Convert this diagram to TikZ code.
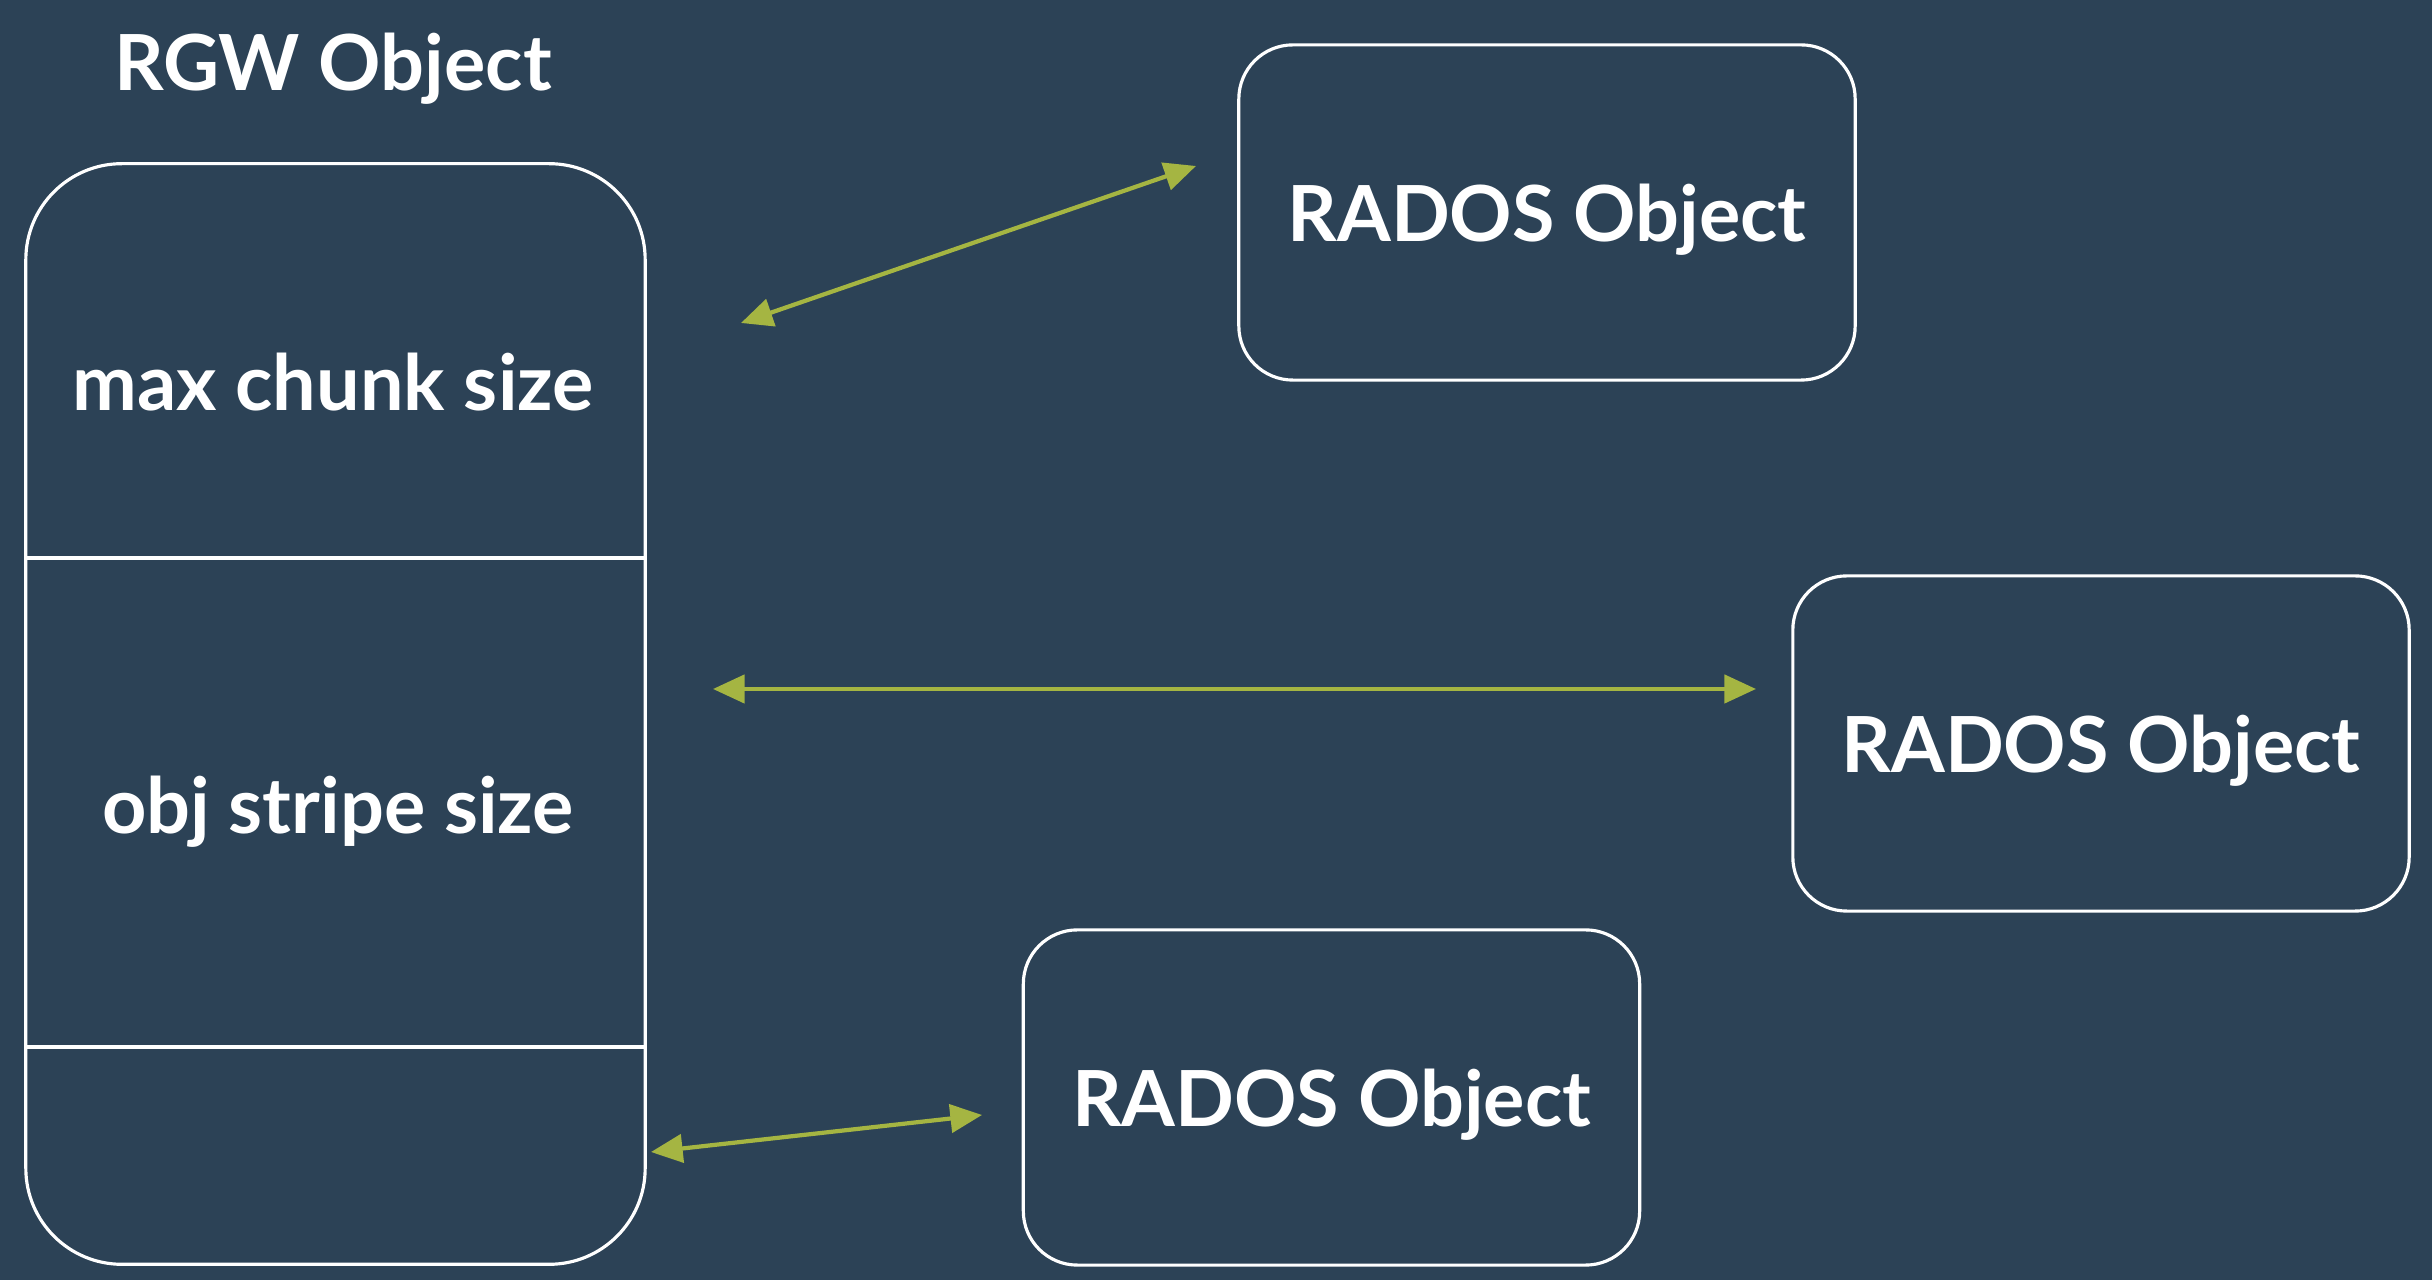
\documentclass[tikz,border=0pt]{standalone}
\usepackage{fontspec}
\setmainfont{Lato}
\usetikzlibrary{arrows.meta}
\definecolor{slate}{RGB}{44,66,86}
\definecolor{olive}{RGB}{165,181,66}

\begin{document}
\begin{tikzpicture}[x=0.01cm,y=-0.01cm,font=\bfseries\fontsize{22}{26}\selectfont,
   box/.style={draw=white,line width=0.9pt,rounded corners=0.54cm,text depth=0pt,
        minimum width=6.16cm,minimum height=3.35cm,text=white,inner sep=0pt},
   label/.style={text=white,inner sep=0pt,text depth=0pt},
   link/.style={olive,line width=1.2pt,
        {Triangle[length=9pt,width=8pt]}-{Triangle[length=9pt,width=8pt]}}]
% Background (fixes the bounding box too)
   \fill [slate] (0,0) rectangle (2432,1280);
% RGW object with its stripes
   \node [box,rounded corners=0.96cm,minimum width=6.19cm,minimum height=11cm] (rgw) at (335.5,714) {};
   \node [label] (title) at (333,62) {RGW Object};
   \draw [white,line width=0.9pt]
        (rgw.west |- 0,558)  -- (rgw.east |- 0,558)
        (rgw.west |- 0,1047) -- (rgw.east |- 0,1047)
   ;
   \node [label] (chunk) at (333,382) {max chunk size};
   \node [label] (stripe) at (338,805) {obj stripe size};
% RADOS objects
   \node [box] (rados1) at (1547,212.5) {RADOS Object};
   \node [box] (rados2) at (2101,743.5) {RADOS Object};
   \node [box] (rados3) at (1331.5,1097.5) {RADOS Object};
% Arrow ends
   \coordinate (from1) at (741,323);  \coordinate (to1) at (1196,166);
   \coordinate (from2) at (713,689);  \coordinate (to2) at (1756,689);
   \coordinate (from3) at (651,1152); \coordinate (to3) at (982,1115);
   \draw [link] (from1) -- (to1);
   \draw [link] (from2) -- (to2);
   \draw [link] (from3) -- (to3);
\end{tikzpicture}
\end{document}
